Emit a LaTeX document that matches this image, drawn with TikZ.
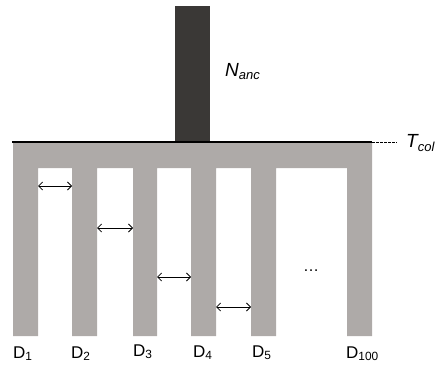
\documentclass[tikz,border=0pt]{standalone}
\usepackage{fontspec}
\setmainfont{Liberation Sans}
\usetikzlibrary{arrows.meta}
\definecolor{legg}{HTML}{AEAAA8}
\definecolor{anc}{HTML}{3A3836}
\tikzset{
  lbl/.style={font=\fontsize{17}{19}\selectfont, inner sep=0pt, anchor=base west},
  ital/.style={font=\fontsize{19}{21}\selectfont\itshape, anchor=base west, inner sep=0pt},
  gap/.style={{Straight Barb[length=4pt,width=8pt]}-{Straight Barb[length=4pt,width=8pt]}, line width=0.8pt, black},
}
\begin{document}
\begin{tikzpicture}[x=1pt,y=-1pt]
\useasboundingbox (0,0) rectangle (441,374);
% ancestral column
\fill[anc] (175,6) rectangle (210,142);
% grey tree
\fill[legg] (13,143) -- (372,143) -- (372,336) -- (347,336) -- (347,168)
  -- (276,168) -- (276,336) -- (251,336) -- (251,168)
  -- (216,168) -- (216,336) -- (191,336) -- (191,168)
  -- (157,168) -- (157,336) -- (133,336) -- (133,168)
  -- (97,168) -- (97,336) -- (72,336) -- (72,168)
  -- (38,168) -- (38,336) -- (13,336) -- cycle;
% collapse line
\coordinate (l0) at (12,142);
\coordinate (l1) at (372,142);
\coordinate (l2) at (397,142);
\draw[line width=1.2pt] (l0) -- (l1);
\draw[dashed, line width=0.7pt, dash pattern=on 2.5pt off 1.5pt] (l1) -- (l2);
\node[ital] (tcol) at (406,148) {T\textsubscript{\fontsize{13}{13}\selectfont col}};
\node[ital] (nanc) at (225,77) {N\textsubscript{\fontsize{13}{13}\selectfont anc}};
% gap arrows
\coordinate (a1l) at (38,186); \coordinate (a1r) at (72,186);
\coordinate (a2l) at (97,228); \coordinate (a2r) at (133,228);
\coordinate (a3l) at (157,277); \coordinate (a3r) at (191,277);
\coordinate (a4l) at (216,307); \coordinate (a4r) at (251,307);
\draw[gap] (a1l) -- (a1r);
\draw[gap] (a2l) -- (a2r);
\draw[gap] (a3l) -- (a3r);
\draw[gap] (a4l) -- (a4r);
\node[font=\fontsize{16}{18}\selectfont, inner sep=0pt, anchor=base] (dots) at (311,271) {\ldots};
% labels
\node[lbl] (d1) at (13,358) {D\textsubscript{1}};
\node[lbl] (d2) at (71,358) {D\textsubscript{2}};
\node[lbl] (d3) at (133,356) {D\textsubscript{3}};
\node[lbl] (d4) at (193,357) {D\textsubscript{4}};
\node[lbl] (d5) at (252,357) {D\textsubscript{5}};
\node[lbl] (d100) at (346,358) {D\textsubscript{100}};
\end{tikzpicture}
\end{document}
